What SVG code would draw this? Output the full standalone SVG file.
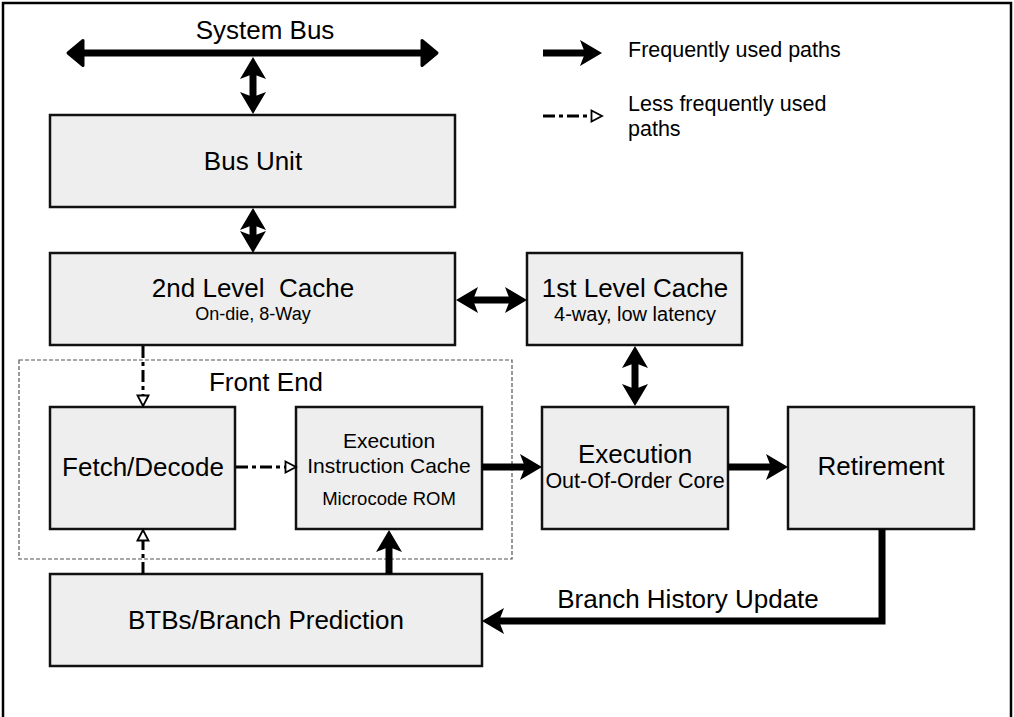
<svg xmlns="http://www.w3.org/2000/svg" width="1014" height="717" viewBox="0 0 1014 717">
<style>
.box{fill:#eeeeee;stroke:#111111;stroke-width:2.5}
.t{font-family:"Liberation Sans",Arial,Helvetica,sans-serif;fill:#000;text-anchor:middle}
.big{font-size:26px}
.lg{font-family:"Liberation Sans",Arial,Helvetica,sans-serif;fill:#000;font-size:21.5px}
.thick{fill:none;stroke:#000;stroke-width:7}
.dash{fill:none;stroke:#000;stroke-width:3;stroke-dasharray:12 4 4 4}
</style>
<defs>
<marker id="head" markerUnits="userSpaceOnUse" viewBox="0 0 22 26" markerWidth="22" markerHeight="26" refX="12" refY="13" orient="auto-start-reverse">
<path d="M22,13 L0,0 L5,13 L0,26 Z" fill="#000"/>
</marker>
<marker id="busHead" markerUnits="userSpaceOnUse" viewBox="0 0 21 30" markerWidth="21" markerHeight="30" refX="5" refY="15" orient="auto-start-reverse">
<path d="M3,2.5 L18,15 L3,27.5 Z" fill="#000" stroke="#000" stroke-width="3" stroke-linejoin="round"/>
</marker>
<marker id="hollow" markerUnits="userSpaceOnUse" viewBox="0 0 14 14" markerWidth="14" markerHeight="14" refX="1.5" refY="7" orient="auto-start-reverse">
<path d="M1.5,1.5 L12,7 L1.5,12.5 Z" fill="#fff" stroke="#000" stroke-width="1.8" stroke-linejoin="miter"/>
</marker>
</defs>
<rect x="3" y="3" width="1008" height="730" fill="#fff" stroke="#000" stroke-width="2.5"/>
<rect id="front-end" x="19" y="360" width="493" height="199" fill="none" stroke="#555" stroke-width="1.2" stroke-dasharray="4 2"/>
<text class="t big" x="266" y="391">Front End</text>
<g id="bus-unit"><rect class="box" x="50" y="115" width="405" height="92"/><text class="t big" x="253" y="170">Bus Unit</text></g>
<g id="l2-cache"><rect class="box" x="50" y="253" width="405" height="92"/><text class="t big" x="253" y="297">2nd Level&#160; Cache</text><text class="t" font-size="18" x="253" y="320">On-die, 8-Way</text></g>
<g id="l1-cache"><rect class="box" x="527" y="253" width="215" height="92"/><text class="t big" x="635" y="297">1st Level Cache</text><text class="t" font-size="20" x="635" y="321">4-way, low latency</text></g>
<g id="fetch-decode"><rect class="box" x="50" y="407" width="185" height="122"/><text class="t big" x="143" y="476">Fetch/Decode</text></g>
<g id="exec-icache"><rect class="box" x="296" y="407" width="186" height="122"/><text class="t" font-size="21" x="389" y="448">Execution</text><text class="t" font-size="21" x="389" y="473">Instruction Cache</text><text class="t" font-size="18.5" x="389" y="505">Microcode ROM</text></g>
<g id="execution"><rect class="box" x="542" y="407" width="186" height="122"/><text class="t big" x="635" y="463">Execution</text><text class="t" font-size="21.5" x="635" y="488">Out-Of-Order Core</text></g>
<g id="retirement"><rect class="box" x="788" y="407" width="186" height="122"/><text class="t big" x="881" y="475">Retirement</text></g>
<g id="btb"><rect class="box" x="50" y="574" width="432" height="92"/><text class="t big" x="266" y="629">BTBs/Branch Prediction</text></g>
<g id="system-bus"><text class="t big" x="265" y="39">System Bus</text></g>
<g id="connectors">
<line class="thick" x1="81" y1="53" x2="424" y2="53" marker-start="url(#busHead)" marker-end="url(#busHead)"/>
<line class="thick" x1="253" y1="67" x2="253" y2="104" marker-start="url(#head)" marker-end="url(#head)"/>
<line class="thick" x1="253" y1="218" x2="253" y2="243" marker-start="url(#head)" marker-end="url(#head)"/>
<line class="thick" x1="466" y1="300" x2="517" y2="300" marker-start="url(#head)" marker-end="url(#head)"/>
<line class="thick" x1="635" y1="356" x2="635" y2="396" marker-start="url(#head)" marker-end="url(#head)"/>
<line class="thick" x1="482" y1="467" x2="532" y2="467" marker-end="url(#head)"/>
<line class="thick" x1="728" y1="467" x2="778" y2="467" marker-end="url(#head)"/>
<line class="thick" x1="389" y1="574" x2="389" y2="540" marker-end="url(#head)"/>
<path class="thick" d="M882,529 L882,621 L492,621" stroke-width="8" marker-end="url(#head)"/>
<line class="dash" x1="143" y1="346" x2="143" y2="395.5" marker-end="url(#hollow)"/>
<line class="dash" x1="236" y1="467" x2="285.5" y2="467" marker-end="url(#hollow)"/>
<line class="dash" x1="143" y1="574" x2="143" y2="540.5" marker-end="url(#hollow)"/>
<text class="t big" x="688" y="608">Branch History Update</text>
</g>
<g id="legend">
<line class="thick" x1="543" y1="53" x2="592" y2="53" marker-end="url(#head)"/>
<text class="lg" x="628" y="57">Frequently used paths</text>
<line class="dash" x1="543" y1="116" x2="591.5" y2="116" stroke-width="2.5" marker-end="url(#hollow)"/>
<text class="lg" x="628" y="111">Less frequently used</text>
<text class="lg" x="628" y="136">paths</text>
</g>
</svg>
